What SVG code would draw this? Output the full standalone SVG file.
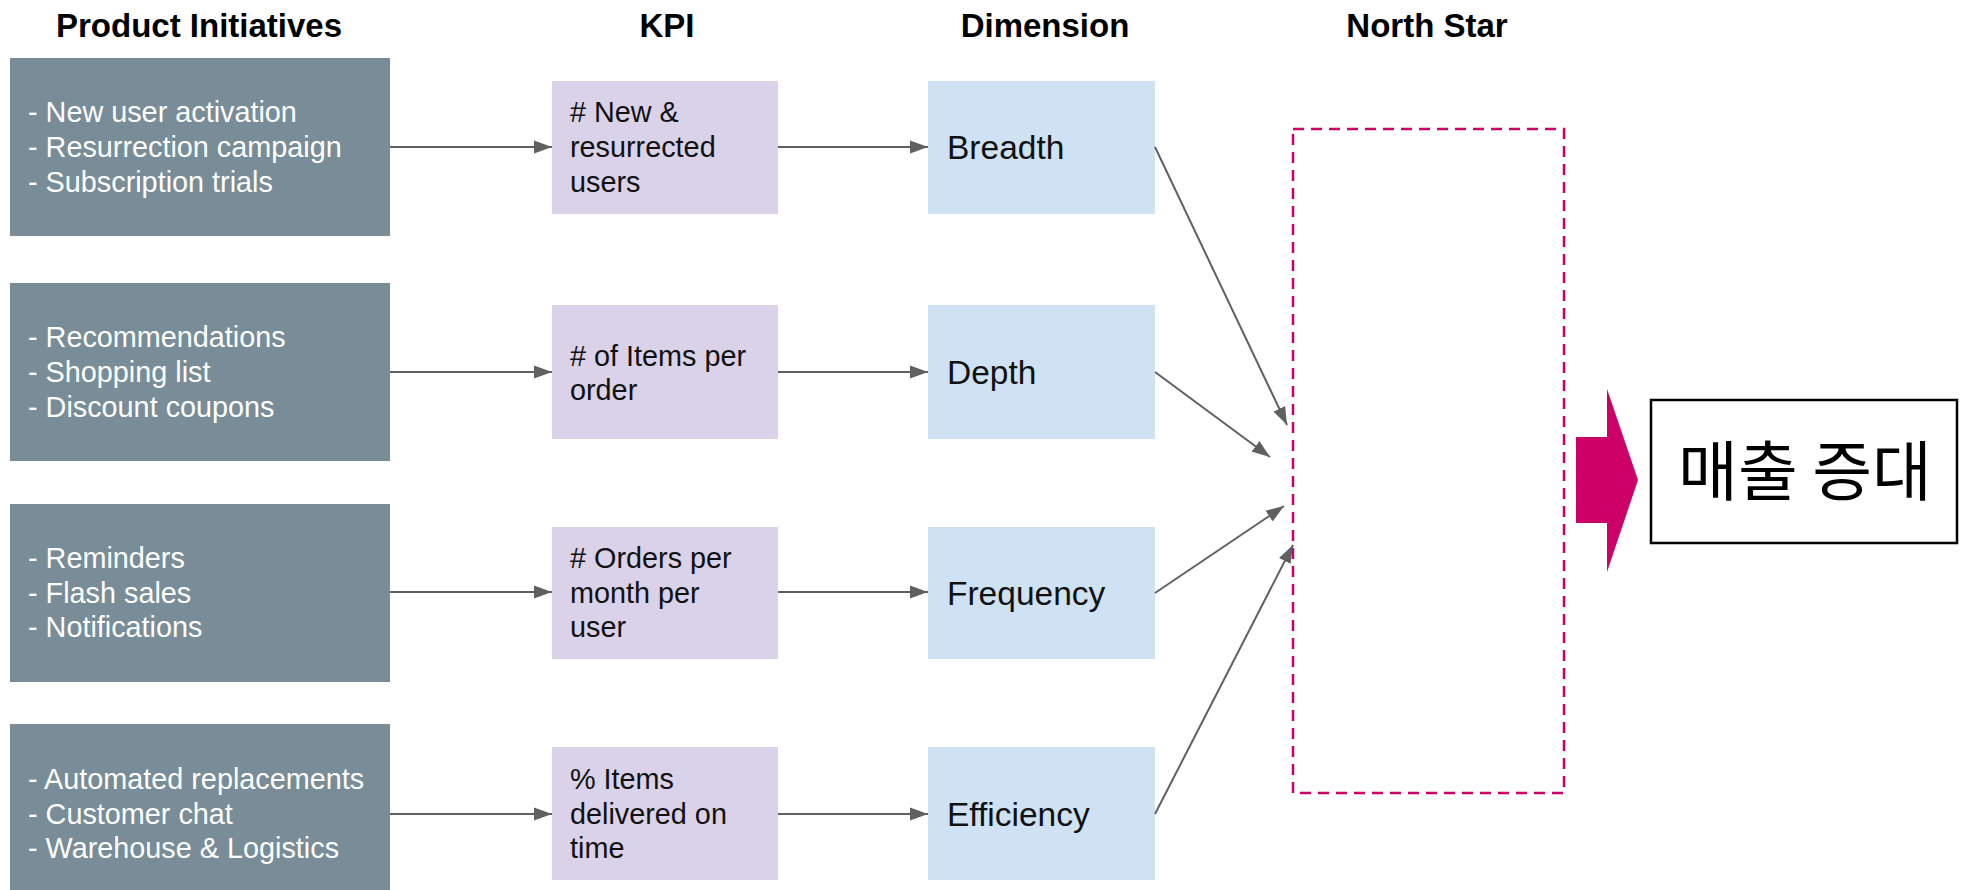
<svg xmlns="http://www.w3.org/2000/svg" width="1966" height="890" viewBox="0 0 1966 890">
  <style>
    .title { font-family: "Liberation Sans", Arial, sans-serif; font-weight: bold; font-size: 33px; fill: #000; text-anchor: middle; }
    .pi { fill: #788d97; }
    .kpi { fill: #d9d2e9; }
    .dim { fill: #cfe2f3; }
    .pit { font-family: "Liberation Sans", Arial, sans-serif; font-size: 28.8px; fill: #ffffff; }
    .kt { font-family: "Liberation Sans", Arial, sans-serif; font-size: 28.8px; fill: #111; }
    .dt { font-family: "Liberation Sans", Arial, sans-serif; font-size: 33.5px; fill: #111; }
    .conn { stroke: #606060; stroke-width: 2; fill: none; marker-end: url(#ah); }
  </style>
  <defs>
    <marker id="ah" markerUnits="userSpaceOnUse" markerWidth="18" markerHeight="14" refX="18" refY="7" orient="auto">
      <path d="M0,0.5 L18,7 L0,13.5 z" fill="#606060"/>
    </marker>
  </defs>
  <rect width="1966" height="890" fill="#ffffff"/>

  <g id="titles">
    <text class="title" x="199" y="37">Product Initiatives</text>
    <text class="title" x="667" y="37">KPI</text>
    <text class="title" x="1045" y="37">Dimension</text>
    <text class="title" x="1427" y="37">North Star</text>
  </g>

  <g id="pi1"><rect class="pi" x="10" y="58" width="380" height="178"/>
    <text class="pit" x="28" y="122">- New user activation</text>
    <text class="pit" x="28" y="157">- Resurrection campaign</text>
    <text class="pit" x="28" y="192">- Subscription trials</text></g>
  <g id="pi2"><rect class="pi" x="10" y="283" width="380" height="178"/>
    <text class="pit" x="28" y="347">- Recommendations</text>
    <text class="pit" x="28" y="382">- Shopping list</text>
    <text class="pit" x="28" y="417">- Discount coupons</text></g>
  <g id="pi3"><rect class="pi" x="10" y="504" width="380" height="178"/>
    <text class="pit" x="28" y="568">- Reminders</text>
    <text class="pit" x="28" y="603">- Flash sales</text>
    <text class="pit" x="28" y="637">- Notifications</text></g>
  <g id="pi4"><rect class="pi" x="10" y="724" width="380" height="178"/>
    <text class="pit" x="28" y="789">- Automated replacements</text>
    <text class="pit" x="28" y="824">- Customer chat</text>
    <text class="pit" x="28" y="858">- Warehouse &amp; Logistics</text></g>

  <g id="kpi1"><rect class="kpi" x="552" y="81" width="226" height="133"/>
    <text class="kt" x="570" y="122"># New &amp;</text>
    <text class="kt" x="570" y="157">resurrected</text>
    <text class="kt" x="570" y="192">users</text></g>
  <g id="kpi2"><rect class="kpi" x="552" y="305" width="226" height="134"/>
    <text class="kt" x="570" y="366"># of Items per</text>
    <text class="kt" x="570" y="400">order</text></g>
  <g id="kpi3"><rect class="kpi" x="552" y="527" width="226" height="132"/>
    <text class="kt" x="570" y="568"># Orders per</text>
    <text class="kt" x="570" y="603">month per</text>
    <text class="kt" x="570" y="637">user</text></g>
  <g id="kpi4"><rect class="kpi" x="552" y="747" width="226" height="133"/>
    <text class="kt" x="570" y="789">% Items</text>
    <text class="kt" x="570" y="824">delivered on</text>
    <text class="kt" x="570" y="858">time</text></g>

  <g id="dim1"><rect class="dim" x="928" y="81" width="227" height="133"/>
    <text class="dt" x="947" y="159">Breadth</text></g>
  <g id="dim2"><rect class="dim" x="928" y="305" width="227" height="134"/>
    <text class="dt" x="947" y="384">Depth</text></g>
  <g id="dim3"><rect class="dim" x="928" y="527" width="227" height="132"/>
    <text class="dt" x="947" y="605">Frequency</text></g>
  <g id="dim4"><rect class="dim" x="928" y="747" width="227" height="133"/>
    <text class="dt" x="947" y="826">Efficiency</text></g>

  <g id="northstar">
    <rect x="1293" y="129" width="271" height="664" fill="none" stroke="#cc0066" stroke-width="2.5" stroke-dasharray="11 7"/>
  </g>

  <g id="bigarrow">
    <polygon points="1576,437 1607,437 1607,389 1638,480 1607,572 1607,523 1576,523" fill="#cc0066"/>
  </g>

  <g id="result">
    <rect x="1651" y="400" width="306" height="143" fill="#ffffff" stroke="#000" stroke-width="2.5"/>
    <text x="1805" y="495" font-family="'Noto Sans CJK KR', 'Noto Sans', sans-serif" font-size="65" text-anchor="middle" fill="#000">매출 증대</text>
  </g>

  <g id="connectors">
    <line class="conn" x1="390" y1="147" x2="552" y2="147"/>
    <line class="conn" x1="390" y1="372" x2="552" y2="372"/>
    <line class="conn" x1="390" y1="592" x2="552" y2="592"/>
    <line class="conn" x1="390" y1="814" x2="552" y2="814"/>
    <line class="conn" x1="778" y1="147" x2="928" y2="147"/>
    <line class="conn" x1="778" y1="372" x2="928" y2="372"/>
    <line class="conn" x1="778" y1="592" x2="928" y2="592"/>
    <line class="conn" x1="778" y1="814" x2="928" y2="814"/>
    <line class="conn" x1="1155" y1="147" x2="1287" y2="425"/>
    <line class="conn" x1="1155" y1="372" x2="1270" y2="457"/>
    <line class="conn" x1="1155" y1="593" x2="1284" y2="506"/>
    <line class="conn" x1="1155" y1="814" x2="1293" y2="545"/>
  </g>
</svg>
